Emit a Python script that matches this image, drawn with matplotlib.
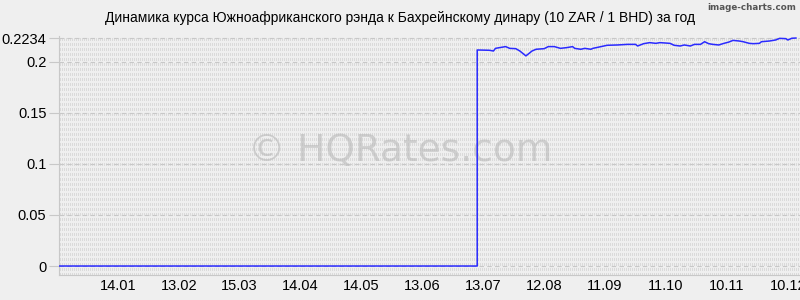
'''
Dynamics of ZAR / BHD rate over a year (10 ZAR / 1 BHD)
'''

import numpy as np
import matplotlib
matplotlib.use('Agg')
import matplotlib.pyplot as plt

# day index from start of period and rate values
days = [0, 206, 206, 212, 214, 215, 217, 220, 222, 225, 227, 230, 231, 233, 235,
        239, 241, 244, 247, 250, 253, 254, 257, 259, 262, 263, 267, 270, 275,
        280, 284, 285, 288, 291, 294, 296, 301, 303, 306, 308, 311, 313, 316,
        318, 320, 322, 325, 327, 330, 332, 335, 337, 340, 342, 345, 346, 350,
        353, 355, 358, 359, 361, 363]
rates = [0, 0, 0.2117, 0.2114, 0.2107, 0.2133, 0.2140, 0.2150, 0.2133, 0.2130,
         0.2107, 0.2059, 0.2075, 0.2107, 0.2124, 0.2130, 0.2150, 0.2150, 0.2133,
         0.2140, 0.2150, 0.2133, 0.2124, 0.2133, 0.2124, 0.2133, 0.2150, 0.2163,
         0.2166, 0.2172, 0.2172, 0.2156, 0.2179, 0.2189, 0.2182, 0.2189, 0.2182,
         0.2163, 0.2156, 0.2166, 0.2156, 0.2172, 0.2172, 0.2198, 0.2179, 0.2172,
         0.2166, 0.2179, 0.2195, 0.2211, 0.2205, 0.2198, 0.2182, 0.2179, 0.2182,
         0.2198, 0.2205, 0.2215, 0.2231, 0.2228, 0.2215, 0.2232, 0.2234]

tick_days = [29, 59, 89, 119, 149, 179, 209, 239, 269, 299, 329, 359]
tick_labels = ['14.01', '13.02', '15.03', '14.04', '14.05', '13.06', '13.07',
               '12.08', '11.09', '11.10', '10.11', '10.12']
y_ticks = [0, 0.05, 0.1, 0.15, 0.2, 0.2234]
y_labels = ['0', '0.05', '0.1', '0.15', '0.2', '0.2234']

title = 'Динамика курса Южноафриканского рэнда к Бахрейнскому динару (10 ZAR / 1 BHD) за год'

bg = '#efefef'
plt.rcParams['font.family'] = ['Liberation Sans', 'DejaVu Sans']

fig = plt.figure(figsize=(8, 3), dpi=100, facecolor=bg)
ax = fig.add_axes([59 / 800, 25 / 300, 741 / 800, 239 / 300])
ax.set_facecolor(bg)

x_min, x_max = 0, 365
y_min, y_max = -0.0088, 0.2254
ax.set_xlim(x_min, x_max)
ax.set_ylim(y_min, y_max)

# dense dashed background texture, one line every 2 px
tex_x = np.arange(x_min + 0.5, x_max, 2 * 365 / 741)
ax.vlines(tex_x, y_min, y_max, colors='#dadada', linewidth=0.72,
          linestyles=(0, (2.9, 2.9)), antialiased=False, zorder=0)

# horizontal dashed gridlines
for yv in y_ticks:
    ax.axhline(yv, color='#c8c8c8', linewidth=0.8, linestyle=(0, (4, 3)), zorder=1)

ax.plot(days, rates, color='#2a2aff', linewidth=1.1, zorder=3)

# watermark
ax.text(0.46, 0.52, '© HQRates.com', transform=ax.transAxes, fontsize=27,
        color='#b8b8b8', alpha=0.6, ha='center', va='center',
        family='DejaVu Sans', zorder=2)

ax.set_xticks(tick_days)
ax.set_xticklabels(tick_labels)
ax.set_yticks(y_ticks)
ax.set_yticklabels(y_labels)
ax.tick_params(axis='x', length=0, pad=3, labelsize=10.5, colors='#000000')
ax.tick_params(axis='y', length=7, width=0.8, pad=2, labelsize=10.5,
               colors='#000000')
ax.tick_params(axis='y', color='#c8c8c8')

for side in ['top', 'right']:
    ax.spines[side].set_visible(False)
ax.spines['left'].set_color('#c8c8c8')
ax.spines['bottom'].set_color('#c8c8c8')
ax.spines['bottom'].set_linestyle((0, (1, 1)))

fig.text(0.5, 1 - 18 / 300, title, ha='center', va='center', fontsize=10)
fig.text(0.995, 1 - 7 / 300, 'image-charts.com', ha='right', va='center',
         fontsize=6.3, color='#555555', family='DejaVu Sans Condensed',
         weight='bold')

fig.savefig('out.png', dpi=100, facecolor=bg)
